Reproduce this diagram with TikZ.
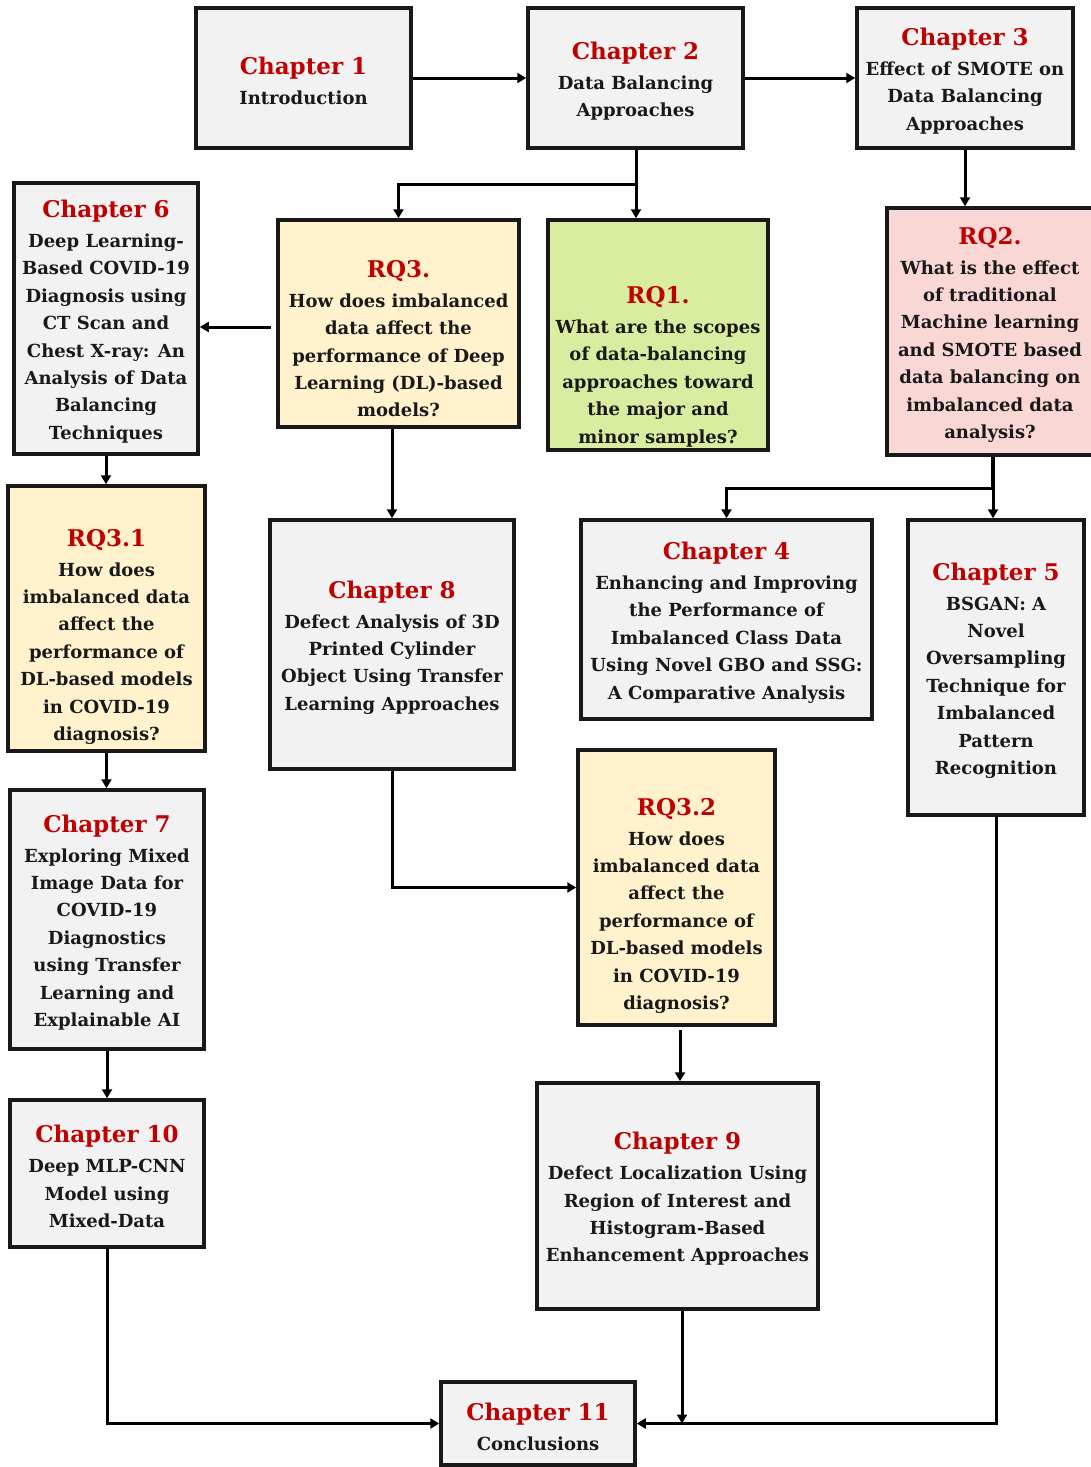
\documentclass[tikz,border=0pt]{standalone}
\usepackage{fontspec}
\setmainfont{DejaVu Serif}
\usetikzlibrary{arrows.meta,calc}
\definecolor{titred}{HTML}{C00000}
\definecolor{boxgray}{HTML}{F2F2F2}
\definecolor{boxyel}{HTML}{FFF2CC}
\definecolor{boxgreen}{HTML}{D8EDA0}
\definecolor{boxpink}{HTML}{F8D7D5}
\newcommand{\tit}[2][0pt]{{\fontsize{23}{27.5}\selectfont\rule{0pt}{\dimexpr23.5pt+#1\relax}\color{titred}#2}\\[2.5pt]}
\tikzset{
  box/.style={draw=black!90, line width=3.5pt, fill=boxgray, align=center, inner sep=0pt,
    font=\fontsize{18}{27.4}\selectfont\bfseries, text=black!90},
  arr/.style={line width=3pt, -{Triangle[length=9pt,width=10pt]}},
  ln/.style={line width=4.5pt}
}
\begin{document}
\begin{tikzpicture}[x=1pt,y=-1pt]
\useasboundingbox (0,0) rectangle (1091,1467);
% boxes
\node[box, minimum width=215, minimum height=140] (ch1) at (303.5,78) {\tit{Chapter 1}Introduction};
\node[box, minimum width=215, minimum height=140] (ch2) at (635.5,78) {\tit{Chapter 2}Data Balancing\\Approaches};
\node[box, minimum width=216, minimum height=140] (ch3) at (965,78) {\tit{Chapter 3}Effect of SMOTE on\\Data Balancing\\Approaches};
\node[box, minimum width=184, minimum height=271] (ch6) at (106,318.5) {\tit{Chapter 6}Deep Learning-\\Based COVID-19\\Diagnosis using\\CT Scan and\\Chest X-ray: An\\Analysis of Data\\Balancing\\Techniques};
\node[box, fill=boxyel, minimum width=241, minimum height=207] (rq3) at (398.5,323.5) {\tit[24pt]{RQ3.}How does imbalanced\\data affect the\\performance of Deep\\Learning (DL)-based\\models?};
\node[box, fill=boxgreen, minimum width=220, minimum height=230] (rq1) at (658,335) {\tit[57pt]{RQ1.}What are the scopes\\of data-balancing\\approaches toward\\the major and\\minor samples?};
\node[box, fill=boxpink, minimum width=206, minimum height=247] (rq2) at (990,331.5) {\tit{RQ2.}What is the effect\\of traditional\\Machine learning\\and SMOTE based\\data balancing on\\imbalanced data\\analysis?};
\node[box, fill=boxyel, minimum width=197, minimum height=265] (rq31) at (106.5,618.5) {\tit[30pt]{RQ3.1}How does\\imbalanced data\\affect the\\performance of\\DL-based models\\in COVID-19\\diagnosis?};
\node[box, minimum width=244, minimum height=249] (ch8) at (392,644.5) {\tit{Chapter 8}Defect Analysis of 3D\\Printed Cylinder\\Object Using Transfer\\Learning Approaches};
\node[box, minimum width=291, minimum height=199] (ch4) at (726.5,619.5) {\tit{Chapter 4}Enhancing and Improving\\the Performance of\\Imbalanced Class Data\\Using Novel GBO and SSG:\\A Comparative Analysis};
\node[box, minimum width=176, minimum height=295] (ch5) at (996,667.5) {\tit{Chapter 5}BSGAN: A\\Novel\\Oversampling\\Technique for\\Imbalanced\\Pattern\\Recognition};
\node[box, fill=boxyel, minimum width=197, minimum height=275] (rq32) at (676.5,887.5) {\tit[30pt]{RQ3.2}How does\\imbalanced data\\affect the\\performance of\\DL-based models\\in COVID-19\\diagnosis?};
\node[box, minimum width=194, minimum height=259] (ch7) at (107,919.5) {\tit{Chapter 7}Exploring Mixed\\Image Data for\\COVID-19\\Diagnostics\\using Transfer\\Learning and\\Explainable AI};
\node[box, minimum width=194, minimum height=147] (ch10) at (107,1173.5) {\tit{Chapter 10}Deep MLP-CNN\\Model using\\Mixed-Data};
\node[box, minimum width=281, minimum height=226] (ch9) at (677.5,1196) {\tit{Chapter 9}Defect Localization Using\\Region of Interest and\\Histogram-Based\\Enhancement Approaches};
\node[box, minimum width=194, minimum height=83] (ch11) at (538,1423.5) {\tit{Chapter 11}Conclusions};
% connectors
\draw[arr] (ch1.east) -- (ch2.west);
\draw[arr] (ch2.east) -- (ch3.west);
\coordinate (j1) at (636,184);
\draw[arr] (ch2.south -| j1) -- (j1 |- rq1.north);
\draw[arr] (j1) -| (rq3.north);
\draw[arr] (ch3.south) -- (ch3.south |- rq2.north);
\coordinate (s1) at (271,327);
\draw[arr] (s1) -- (ch6.east |- s1);
\draw[arr] (ch6.south) -- (ch6.south |- rq31.north);
\draw[arr] (ch8.north |- rq3.south) -- (ch8.north);
\coordinate (j2) at (993,488);
\draw[ln] (rq2.south -| j2) -- (j2);
\draw[arr] (j2) -| (ch4.north);
\draw[arr] (j2) -- (j2 |- ch5.north);
\draw[arr] (rq31.south) -- (rq31.south |- ch7.north);
\draw[arr] (ch8.south) |- (rq32.west);
\coordinate (s2) at (680,1030);
\draw[arr] (s2) -- (s2 |- ch9.north);
\draw[arr] (ch7.south) -- (ch10.north);
\draw[arr] (ch10.south) |- (ch11.west);
\coordinate (s3) at (682,1423.5);
\draw[arr] (ch9.south -| s3) -- (s3);
\draw[arr] (ch5.south) |- (ch11.east);
\end{tikzpicture}
\end{document}
